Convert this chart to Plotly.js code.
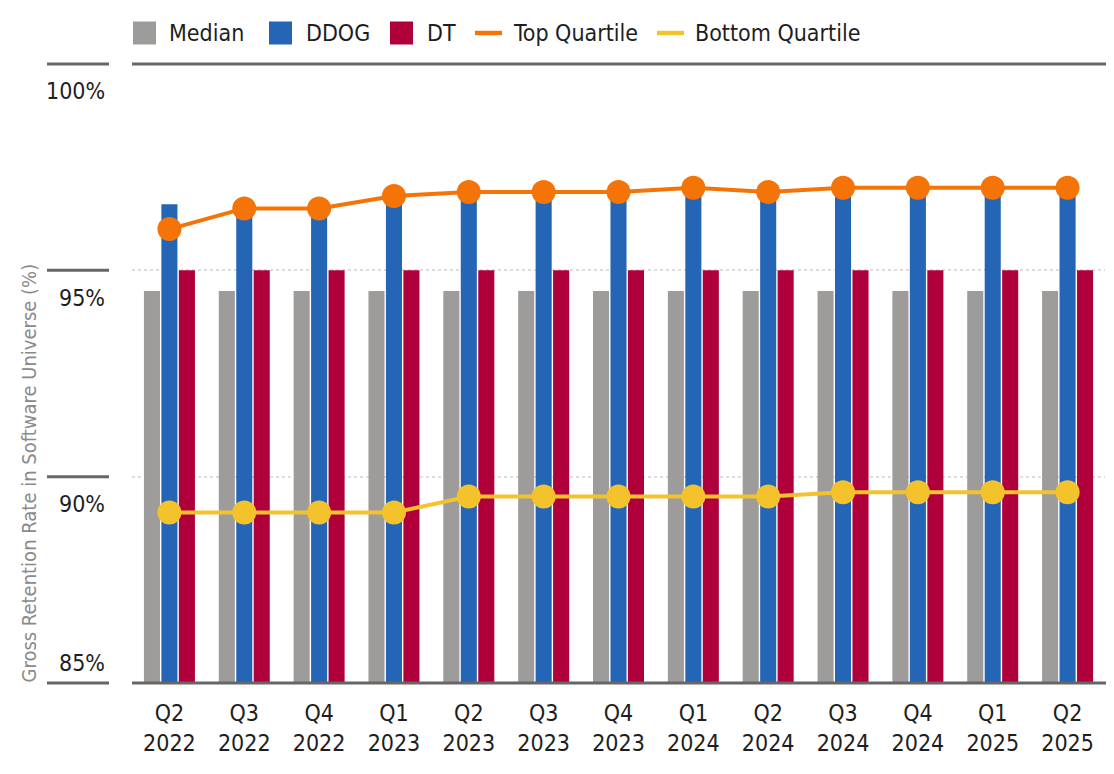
<!DOCTYPE html>
<html>
<head>
<meta charset="utf-8">
<script src="https://cdn.plot.ly/plotly-3.0.1.min.js"></script>
<style>
  html, body { margin: 0; padding: 0; background: #ffffff; }
  #chart { width: 1114px; height: 774px; }
</style>
</head>
<body>
<div id="chart"></div>
<script>
// ---- Data ----
const quarters = ["Q2 2022","Q3 2022","Q4 2022","Q1 2023","Q2 2023","Q3 2023","Q4 2023","Q1 2024","Q2 2024","Q3 2024","Q4 2024","Q1 2025","Q2 2025"];
const tickLabels = ["Q2<br>2022","Q3<br>2022","Q4<br>2022","Q1<br>2023","Q2<br>2023","Q3<br>2023","Q4<br>2023","Q1<br>2024","Q2<br>2024","Q3<br>2024","Q4<br>2024","Q1<br>2025","Q2<br>2025"];
const median = [94.5,94.5,94.5,94.5,94.5,94.5,94.5,94.5,94.5,94.5,94.5,94.5,94.5];
const ddog = [96.6,96.5,96.5,96.8,96.9,96.9,96.9,97.0,96.9,97.0,97.0,97.0,97.0];
const dt = [95.0,95.0,95.0,95.0,95.0,95.0,95.0,95.0,95.0,95.0,95.0,95.0,95.0];
const topQuartile = [96.0,96.5,96.5,96.8,96.9,96.9,96.9,97.0,96.9,97.0,97.0,97.0,97.0];
const bottomQuartile = [89.13,89.13,89.13,89.13,89.52,89.52,89.52,89.52,89.52,89.62,89.62,89.62,89.62];
const yTickVals = [100, 95, 90, 85];
const yTickText = ["100%", "95%", "90%", "85%"];
const yTitle = "Gross Retention Rate in Software Universe (%)";
const legendNames = ["Median", "DDOG", "DT", "Top Quartile", "Bottom Quartile"];

// ---- Styling ----
const FONT = "'Liberation Sans Narrow', 'Arial Narrow', 'DejaVu Sans Condensed', sans-serif";
const C_MED = "#9d9c9a", C_DDOG = "#2565b5", C_DT = "#b0003c", C_TOP = "#f47407", C_BOT = "#f4c32c";
const TXT = "#1e1e1e", AXC = "#666666";
const FS = 23;

const W = 1114, H = 774;
const M = { l: 132, r: 9, t: 64, b: 91 };
const PW = W - M.l - M.r, PH = H - M.t - M.b;
const px = (x) => (x - M.l) / PW;          // pixel -> paper x
const py = (y) => (H - M.b - y) / PH;      // pixel -> paper y
const yPix = (v) => (H - M.b) - (v - 85) / 15 * PH; // value -> pixel y (for label placement only)

const idx = quarters.map((_, i) => i);

const traces = [
  { type: "bar", name: legendNames[0], x: idx, y: median, marker: { color: C_MED }, showlegend: false, hoverinfo: "y" },
  { type: "bar", name: legendNames[1], x: idx, y: ddog, marker: { color: C_DDOG }, showlegend: false, hoverinfo: "y" },
  { type: "bar", name: legendNames[2], x: idx, y: dt, marker: { color: C_DT }, showlegend: false, hoverinfo: "y" },
  { type: "scatter", mode: "lines+markers", name: legendNames[3], x: idx, y: topQuartile,
    line: { color: C_TOP, width: 4 }, marker: { color: C_TOP, size: 24 }, showlegend: false, hoverinfo: "y" },
  { type: "scatter", mode: "lines+markers", name: legendNames[4], x: idx, y: bottomQuartile,
    line: { color: C_BOT, width: 4 }, marker: { color: C_BOT, size: 24 }, showlegend: false, hoverinfo: "y" }
];

const shapes = [];
const annotations = [];

// plot top / bottom solid lines
[0, 1].forEach(p => {
  shapes.push({ type: "line", xref: "paper", yref: "paper", x0: 0, x1: 1.001, y0: p, y1: p,
    line: { color: AXC, width: 3 }, layer: "above" });
});
// left tick segments
yTickVals.forEach(v => {
  const yy = (v - 85) / 15;
  shapes.push({ type: "line", xref: "paper", yref: "paper", x0: px(47), x1: px(109), y0: yy, y1: yy,
    line: { color: AXC, width: 3 } });
});
// y tick labels
const yShift = [-27, -28, -27, 20];
yTickVals.forEach((v, i) => {
  annotations.push({ xref: "paper", yref: "paper", x: px(107), y: (v - 85) / 15, yshift: yShift[i],
    xanchor: "right", yanchor: "middle", showarrow: false, text: yTickText[i],
    font: { family: FONT, size: FS, color: TXT } });
});
// y-axis title
annotations.push({ xref: "paper", yref: "paper", x: px(29), y: py(685), xanchor: "center", yanchor: "bottom",
  textangle: -90, showarrow: false, text: yTitle, font: { family: FONT, size: 20, color: "#8a8a8a" } });

// ---- Custom legend ----
const legY = 33;
const swatches = [[133, 156, C_MED], [269, 292, C_DDOG], [390, 413, C_DT]];
swatches.forEach(s => {
  shapes.push({ type: "rect", xref: "paper", yref: "paper", x0: px(s[0]), x1: px(s[1]),
    y0: py(legY + 11.5), y1: py(legY - 11.5), fillcolor: s[2], line: { width: 0 } });
});
[[475, 502, C_TOP], [657, 684, C_BOT]].forEach(s => {
  shapes.push({ type: "line", xref: "paper", yref: "paper", x0: px(s[0]), x1: px(s[1]),
    y0: py(legY), y1: py(legY), line: { color: s[2], width: 4.5 } });
});
const legTextX = [167, 304, 425, 511, 693];
legendNames.forEach((n, i) => {
  annotations.push({ xref: "paper", yref: "paper", x: px(legTextX[i]), y: py(legY), xanchor: "left", yanchor: "middle",
    showarrow: false, text: n, font: { family: FONT, size: FS, color: TXT } });
});

const layout = {
  width: W, height: H,
  margin: M,
  paper_bgcolor: "#ffffff", plot_bgcolor: "#ffffff",
  barmode: "group", bargap: 0.30, bargroupgap: 0.08,
  showlegend: false,
  font: { family: FONT, size: FS, color: TXT },
  xaxis: {
    range: [-0.5, 12.5], tickmode: "array", tickvals: idx, ticktext: tickLabels,
    showgrid: false, zeroline: false, showline: false, ticks: "", ticklabelstandoff: 14,
    tickfont: { family: FONT, size: FS, color: TXT }, fixedrange: true
  },
  yaxis: {
    range: [85, 100], tickmode: "array", tickvals: [90, 95], showticklabels: false,
    showgrid: true, gridcolor: "#dddddd", gridwidth: 2, griddash: "dot",
    zeroline: false, showline: false, ticks: "", fixedrange: true
  },
  shapes: shapes,
  annotations: annotations
};

Plotly.newPlot("chart", traces, layout, { displayModeBar: false, staticPlot: true });
</script>
</body>
</html>
